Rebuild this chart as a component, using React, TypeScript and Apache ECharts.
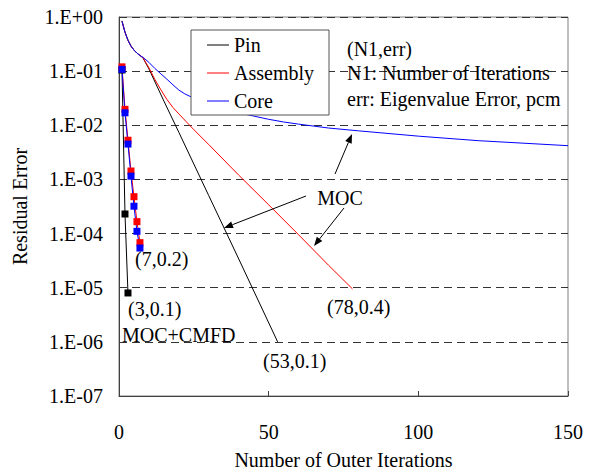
import React, { useEffect, useRef } from "react";
import * as echarts from "echarts";

// MOC (no acceleration) curves
const pinMocX = [1, 2, 3, 4, 5, 6, 7, 8, 10, 15, 20, 30, 40, 53];
const pinMocY = [0.85, 0.53, 0.375, 0.29, 0.245, 0.215, 0.195, 0.176, 0.11, 0.028, 0.0074, 5.0e-4, 3.4e-5, 1.0e-6];

const asmMocX = [1, 2, 3, 4, 5, 6, 7, 8, 10, 12, 14, 16, 18, 20, 25, 30, 40, 50, 60, 70, 78];
const asmMocY = [0.83, 0.52, 0.37, 0.29, 0.245, 0.215, 0.195, 0.178, 0.115, 0.07, 0.045, 0.03, 0.0214, 0.0162, 0.0083, 0.0044, 0.0012, 3.4e-4, 9.5e-5, 2.6e-5, 9.5e-6];

const coreMocX = [1, 2, 3, 4, 5, 6, 7, 8, 10, 12, 14, 16, 18, 20, 22, 25, 30, 35, 40, 45, 50, 55, 60, 70, 80, 100, 120, 150];
const coreMocY = [0.83, 0.52, 0.37, 0.29, 0.245, 0.215, 0.195, 0.18, 0.145, 0.112, 0.089, 0.071, 0.056, 0.0447, 0.038, 0.0316, 0.0251, 0.0204, 0.017, 0.0148, 0.0129, 0.0115, 0.0105, 0.0089, 0.0079, 0.0063, 0.0052, 0.0042];

// MOC + CMFD curves
const pinCmfdX = [1, 2, 3];
const pinCmfdY = [0.105, 2.3e-4, 8e-6];
const asmCmfdX = [1, 2, 3, 4, 5, 6, 7];
const asmCmfdY = [0.12, 0.0197, 0.0053, 0.00143, 4.8e-4, 1.66e-4, 6.8e-5];
const coreCmfdX = [1, 2, 3, 4, 5, 6, 7];
const coreCmfdY = [0.108, 0.017, 0.0045, 0.00115, 3.2e-4, 1.1e-4, 5.4e-5];

const legendNames = ["Pin", "Assembly", "Core"];
const colors = ["#000000", "#ff0000", "#0000ff"];

const FONT = "Liberation Serif";

const zip = (xs: number[], ys: number[]) => xs.map((x, i) => [x, ys[i]]);

function fmtExp(v: number) {
  const e = Math.round(Math.log10(v));
  const a = Math.abs(e);
  return "1.E" + (e >= 0 ? "+" : "-") + (a < 10 ? "0" + a : String(a));
}

function arrow(x1: number, y1: number, x2: number, y2: number) {
  const dx = x2 - x1;
  const dy = y2 - y1;
  const len = Math.sqrt(dx * dx + dy * dy);
  const ux = dx / len;
  const uy = dy / len;
  const hl = 9;
  const hw = 3.5;
  const bx = x2 - ux * hl;
  const by = y2 - uy * hl;
  return [
    {
      type: "line",
      shape: { x1, y1, x2: bx, y2: by },
      style: { stroke: "#000", lineWidth: 1 },
      z: 50,
    },
    {
      type: "polygon",
      shape: {
        points: [
          [x2, y2],
          [bx - uy * hw, by + ux * hw],
          [bx + uy * hw, by - ux * hw],
        ],
      },
      style: { fill: "#000" },
      z: 50,
    },
  ];
}

function txt(text: string, x: number, y: number, align: string = "left") {
  return {
    type: "text",
    x,
    y,
    z: 50,
    style: {
      text,
      fill: "#000",
      fontFamily: FONT,
      fontSize: 20,
      align,
      verticalAlign: "middle",
    },
  };
}

export default function App() {
  const ref = useRef<HTMLDivElement>(null);
  useEffect(() => {
    document.body.style.margin = "0";
    const chart = echarts.init(ref.current!, undefined, { renderer: "svg" });
    const mocSeries = [zip(pinMocX, pinMocY), zip(asmMocX, asmMocY), zip(coreMocX, coreMocY)].map((d, i) => ({
      name: legendNames[i],
      type: "line",
      data: d,
      symbol: "none",
      lineStyle: { color: colors[i], width: 1 },
      itemStyle: { color: colors[i] },
      z: 3,
    }));
    const cmfdSeries = [zip(pinCmfdX, pinCmfdY), zip(asmCmfdX, asmCmfdY), zip(coreCmfdX, coreCmfdY)].map((d, i) => ({
      name: legendNames[i] + " MOC+CMFD",
      type: "line",
      data: d,
      symbol: "rect",
      symbolSize: 7,
      lineStyle: { color: colors[i], width: 1 },
      itemStyle: { color: colors[i] },
      z: 4,
    }));
    chart.setOption({
      animation: false,
      backgroundColor: "#fff",
      textStyle: { fontFamily: FONT, fontSize: 20 },
      grid: {
        left: 119,
        top: 17,
        right: 23,
        bottom: 80,
        show: true,
        borderColor: "#808080",
        borderWidth: 1,
      },
      legend: {
        data: legendNames.map((n) => ({ name: n, icon: "rect" })),
        orient: "vertical",
        left: 191,
        top: 30,
        itemWidth: 22,
        itemHeight: 1,
        itemGap: 0,
        padding: [1, 15, 0, 16],
        backgroundColor: "#fff",
        borderColor: "#555",
        borderWidth: 1,
        textStyle: { fontFamily: FONT, fontSize: 20, color: "#000", lineHeight: 28 },
      },
      xAxis: {
        type: "value",
        min: 0,
        max: 150,
        interval: 50,
        name: "Number of Outer Iterations",
        nameLocation: "middle",
        nameGap: 54,
        nameTextStyle: { fontFamily: FONT, fontSize: 20, color: "#000" },
        axisLine: { show: true, lineStyle: { color: "#404040", width: 1 } },
        axisTick: { show: true, inside: true, length: 5, lineStyle: { color: "#404040" } },
        splitLine: { show: false },
        axisLabel: { fontFamily: FONT, fontSize: 20, color: "#000", margin: 26 },
      },
      yAxis: {
        type: "log",
        logBase: 10,
        min: 1e-7,
        max: 1,
        name: "Residual Error",
        nameLocation: "middle",
        nameGap: 89,
        nameTextStyle: { fontFamily: FONT, fontSize: 20, color: "#000" },
        axisLine: { show: true, lineStyle: { color: "#404040", width: 1 } },
        axisTick: { show: false },
        splitLine: { show: true, lineStyle: { color: "#333", type: [8, 5], width: 1 } },
        axisLabel: { fontFamily: FONT, fontSize: 20, color: "#000", margin: 16, formatter: fmtExp },
      },
      series: [...mocSeries, ...cmfdSeries],
      graphic: [
        txt("(N1,err)", 347, 49),
        txt("N1: Number of Iterations", 347, 73),
        txt("err: Eigenvalue Error, pcm", 347, 99),
        txt("MOC", 340, 198, "center"),
        txt("(7,0.2)", 135, 259),
        txt("(3,0.1)", 128, 309),
        txt("MOC+CMFD", 122, 335),
        txt("(53,0.1)", 263, 361),
        txt("(78,0.4)", 327, 307),
        ...arrow(335, 174, 352, 134),
        ...arrow(306, 196, 224, 228),
        ...arrow(344, 208, 314, 246),
      ],
    });
    return () => chart.dispose();
  }, []);
  return <div ref={ref} style={{ width: 591, height: 476 }} />;
}
